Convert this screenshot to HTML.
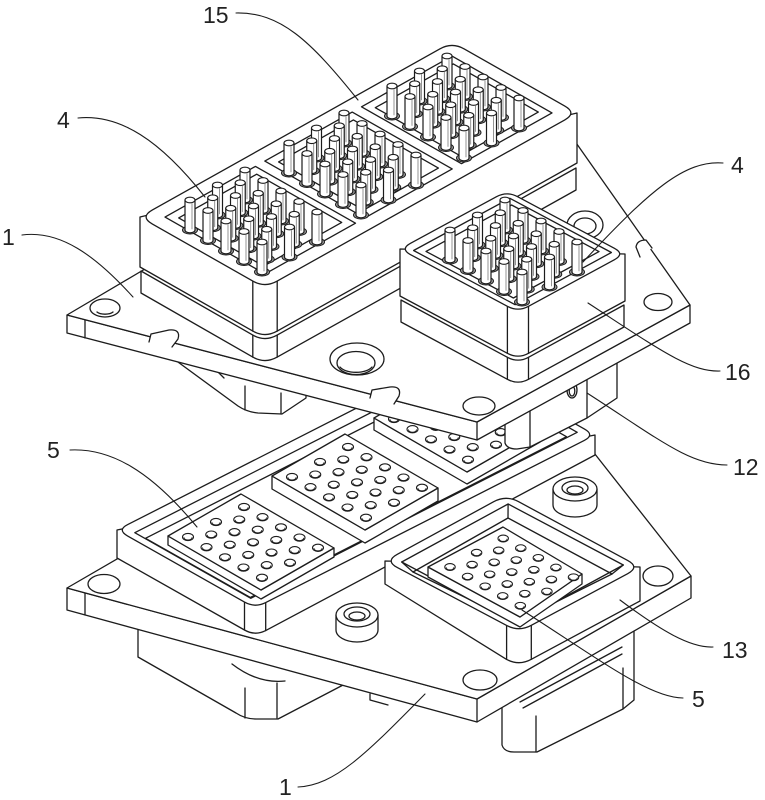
<!DOCTYPE html>
<html><head><meta charset="utf-8"><style>html,body{margin:0;padding:0;background:#fff;}svg{display:block}</style></head>
<body>
<svg width="765" height="800" viewBox="0 0 765 800" xmlns="http://www.w3.org/2000/svg">
<defs>
  <g id="pin">
    <ellipse cx="0" cy="30" rx="7.5" ry="4" fill="#9a9a9a" stroke="#1c1c1c" stroke-width="1"/>
    <path d="M-5,0 L-5,30 A5,2.8 0 0 0 5,30 L5,0 Z" fill="#fff" stroke="#1c1c1c" stroke-width="1.2"/>
    <ellipse cx="0" cy="0" rx="5" ry="2.8" fill="#fff" stroke="#1c1c1c" stroke-width="1.1"/>
    <line x1="2" y1="3.5" x2="2" y2="29" stroke="#666" stroke-width="0.7"/>
  </g>
  <g id="pl">
    <use href="#pin" x="55" y="-30"/><use href="#pin" x="73" y="-19.5"/><use href="#pin" x="50.25" y="-17.25"/>
    <use href="#pin" x="27.5" y="-15"/><use href="#pin" x="91" y="-9"/><use href="#pin" x="68.25" y="-6.75"/>
    <use href="#pin" x="45.5" y="-4.5"/><use href="#pin" x="22.75" y="-2.25"/><use href="#pin" x="0" y="0"/>
    <use href="#pin" x="109" y="1.5"/><use href="#pin" x="86.25" y="3.75"/><use href="#pin" x="63.5" y="6"/>
    <use href="#pin" x="40.75" y="8.25"/><use href="#pin" x="18" y="10.5"/><use href="#pin" x="127" y="12"/>
    <use href="#pin" x="104.25" y="14.25"/><use href="#pin" x="81.5" y="16.5"/><use href="#pin" x="58.75" y="18.75"/>
    <use href="#pin" x="36" y="21"/><use href="#pin" x="99.5" y="27"/><use href="#pin" x="76.75" y="29.25"/>
    <use href="#pin" x="54" y="31.5"/><use href="#pin" x="72" y="42"/>
  </g>
  <g id="h">
    <ellipse cx="0" cy="0" rx="5.5" ry="3.6" fill="#fff" stroke="#1c1c1c" stroke-width="1.1"/>
    <path d="M-4,0.6 A4,2.4 0 0 0 4,0.6" fill="none" stroke="#1c1c1c" stroke-width="0.9"/>
  </g>
  <g id="hs">
    <use href="#h" x="56" y="-30"/><use href="#h" x="74.5" y="-19.8"/><use href="#h" x="93" y="-9.6"/><use href="#h" x="111.5" y="0.6"/><use href="#h" x="130" y="10.8"/>
    <use href="#h" x="51.25" y="-17.4"/><use href="#h" x="69.75" y="-7.2"/><use href="#h" x="88.25" y="3"/><use href="#h" x="106.75" y="13.2"/>
    <use href="#h" x="28" y="-15"/><use href="#h" x="46.5" y="-4.8"/><use href="#h" x="65" y="5.4"/><use href="#h" x="83.5" y="15.6"/><use href="#h" x="102" y="25.8"/>
    <use href="#h" x="23.25" y="-2.4"/><use href="#h" x="41.75" y="7.8"/><use href="#h" x="60.25" y="18"/><use href="#h" x="78.75" y="28.2"/>
    <use href="#h" x="0" y="0"/><use href="#h" x="18.5" y="10.2"/><use href="#h" x="37" y="20.4"/><use href="#h" x="55.5" y="30.6"/><use href="#h" x="74" y="40.8"/>
  </g>
</defs>

<g stroke="#1c1c1c" stroke-width="1.3" fill="#fff" stroke-linejoin="round" stroke-linecap="round">

<!-- ===== LOWER ASSEMBLY ===== -->
<path d="M138,615 L138,657 L236,713 Q245,719 256,719 L278,719 L345,684 L345,640 Z"/>
<path d="M245,688 L245,718 M277,683 L277,718 M232,664 Q258,684 285,681" fill="none"/>
<path d="M502,690 L502,745 Q504,752 514,752 L537,752 L623,709 L634,700 L634,622 Z"/>
<path d="M536,716 L536,752 M623,668 L623,709 M520,702 L622,647 M523,708 L622,654" fill="none"/>

<!-- lower plate -->
<path d="M67,588 L67,610 L477,722 L691,598 L691,576 L477,699 Z"/>
<path d="M477,699 L477,722 M85,593 L85,615 M370,694 L370,700 L388,705" fill="none"/>
<path d="M67,588 L160,534 L400,420 L576,430 L691,576 L477,699 Z"/>
<ellipse cx="104" cy="584" rx="16" ry="9.5"/>
<ellipse cx="658" cy="576" rx="15" ry="10"/>
<ellipse cx="480" cy="680" rx="17" ry="10"/>

<!-- lower frame -->
<path d="M117,530 L117,558 L244.5,630 Q255,636 265.7,630.6 L595,455 L595,435 Z"/>
<path d="M244.5,602 L244.5,630 M265.7,602.6 L265.7,630.6" fill="none"/>
<path d="M127.7,524.6 L446.3,362.4 Q457,357 467.5,362.9 L584.5,429.1 Q595,435 584.3,440.4 L265.7,602.6 Q255,608 244.5,602.1 L127.5,535.9 Q117,530 127.7,524.6 Z"/>
<path d="M134.8,532.7 L461.2,366.7 L577.2,432.3 L250.8,598.3 Z" fill="none"/>
<path d="M145.5,538.3 L461.7,377.5 L566.5,436.7 L250.3,597.5 Z" fill="none"/>

<!-- inserts -->
<path d="M374,418 L374,430 L467,484 L540,442 L540,430 L467,472 Z"/>
<path d="M374,418 L447,376 L540,430 L467,472 Z"/>
<use href="#hs" x="394" y="419"/>
<path d="M272,476 L272,489 L365,543 L438,501 L438,488 L365,530 Z"/>
<path d="M272,476 L345,434 L438,488 L365,530 Z"/>
<use href="#hs" x="292" y="477"/>
<path d="M168,536 L168,545 L261,599 L334,557 L334,548 L261,590 Z"/>
<path d="M168,536 L241,494 L334,548 L261,590 Z"/>
<use href="#hs" x="188" y="537"/>

<!-- bosses -->
<path d="M553,489 L553,505 A22,12 0 0 0 597,505 L597,489 Z"/>
<ellipse cx="575" cy="489" rx="22" ry="12"/>
<ellipse cx="575" cy="488" rx="13" ry="7"/>
<ellipse cx="575" cy="490" rx="8" ry="4" fill="none"/>
<path d="M336,615 L336,630 A21,12 0 0 0 378,630 L378,615 Z"/>
<ellipse cx="357" cy="615" rx="21" ry="12"/>
<ellipse cx="357" cy="614" rx="13" ry="7"/>
<ellipse cx="357" cy="616" rx="8" ry="4" fill="none"/>

<!-- square housing 13 -->
<path d="M385,561 L385,584 L506.6,659.4 Q519,666 531.3,659.3 L640,601 L640,567 Z"/>
<path d="M506.6,625.4 L506.6,659.4 M531.3,625.3 L531.3,659.3" fill="none"/>
<path d="M397.3,554.3 L493.7,501.7 Q506,495 518.4,501.6 L627.6,560.4 Q640,567 627.7,573.7 L531.3,625.3 Q519,632 506.6,625.4 L397.4,567.6 Q385,561 397.3,554.3 Z"/>
<path d="M401.7,562 L508.1,504 L623.3,565 L516.9,623 Z"/>
<path d="M413,572 L508,518 L612,574 L516,622 Z" fill="none"/>
<path d="M508.1,504 L508,518 M401.7,562 L413,572 M623.3,565 L612,574" fill="none"/>
<path d="M428,567 L428,577 L520,627 L582,584 L582,574 L520,617 Z"/>
<path d="M428,567 L503,527 L582,574 L520,617 Z"/>
<g transform="translate(450,567) scale(0.95)"><use href="#hs"/></g>

<!-- ===== UPPER ASSEMBLY ===== -->
<path d="M152,343 L238,406 Q247,412 258,413 L282,414 L306,398 L306,372 Z"/>
<path d="M245,386 L245,410 M281,393 L281,414 M218,372 L224,378" fill="none"/>
<path d="M505,400 L505,443 Q507,449 517,449 L530,447 L587,418 L617,398 L617,350 Z"/>
<path d="M530,406 L530,447 M587,378 L587,418" fill="none"/>
<ellipse cx="572" cy="390" rx="5" ry="8"/>
<ellipse cx="572" cy="391" rx="2.8" ry="5" fill="none"/>

<!-- upper plate -->
<path d="M67,315 L67,333 L477,440 L690,323 L690,305 L477,422 Z"/>
<path d="M477,422 L477,440 M85,320 L85,338" fill="none"/>
<path d="M67,315 L150,266 L300,180 L560,120 L690,305 L477,422 Z"/>
<path d="M149,342 L151,334 L169,330 Q181,329 178,339 L172,347"/>
<path d="M370,398 L372,390 L390,387 Q402,386 399,396 L394,404"/>
<path d="M640,257 L636,247 Q637,240 646,240 L652,248"/>
<ellipse cx="105" cy="308" rx="15" ry="9"/>
<path d="M97,312 A9,4 0 0 0 113,312" fill="none"/>
<ellipse cx="658" cy="302" rx="14" ry="8.5"/>
<ellipse cx="479" cy="406" rx="16" ry="9"/>
<ellipse cx="357" cy="359" rx="27" ry="16"/>
<ellipse cx="356" cy="363" rx="19" ry="11.5"/>
<path d="M340,367 A17,8 0 0 0 372,367" fill="none"/>
<ellipse cx="585" cy="225" rx="18" ry="14"/>
<ellipse cx="585" cy="226" rx="11" ry="8"/>

<!-- long housing 15 -->
<path d="M141,271 L252.8,335.1 Q265,342 277.2,335.1 L576,168 L576,190 L277.2,357.1 Q265,364 252.8,357.1 L141,293 Z"/>
<path d="M252.8,335.1 L252.8,357.1 M277.2,335.1 L277.2,357.1" fill="none"/>
<path d="M140,217 L140,267 L252.8,331.1 Q265,338 277.2,331.1 L577,163 L577,113 Z"/>
<path d="M252.8,281.1 L252.8,331.1 M277.2,281.1 L277.2,331.1" fill="none"/>
<path d="M152.2,210.1 L439.8,48.9 Q452,42 464.2,48.9 L564.8,106.1 Q577,113 564.8,119.9 L277.2,281.1 Q265,288 252.8,281.1 L152.2,223.9 Q140,217 152.2,210.1 Z"/>
<path d="M165,217.1 L255.5,166.4 L355.5,223.2 L265,273.9 Z"/>
<path d="M264.8,161.1 L352.2,112.1 L452.2,168.9 L364.8,217.9 Z"/>
<path d="M361.5,106.85 L452,56.1 L552,112.9 L461.5,163.65 Z"/>
<path d="M178.7,217.9 L256.7,174.2 L341.7,222.4 L263.7,266.1 Z" fill="none"/>
<path d="M278.6,161.9 L353.4,119.9 L438.4,168.1 L363.6,210.1 Z" fill="none"/>
<path d="M375.3,107.65 L453.3,63.9 L538.3,112.1 L460.3,155.85 Z" fill="none"/>
<use href="#pl" x="392" y="86"/>
<use href="#pl" x="289" y="143"/>
<use href="#pl" x="190" y="200"/>

<!-- small housing 16 -->
<path d="M401,300 L507.4,357.3 Q518,363 528.5,357.3 L624,305 L624,327 L528.5,379.3 Q518,385 507.4,379.3 L401,322 Z"/>
<path d="M507.4,357.3 L507.4,379.3 M528.5,357.3 L528.5,379.3" fill="none"/>
<path d="M400,249 L400,296 L507.4,353.3 Q518,359 528.5,353.3 L625,301 L625,254 Z"/>
<path d="M507.4,306.3 L507.4,353.3 M528.5,306.3 L528.5,353.3" fill="none"/>
<path d="M410.5,243.3 L496.5,196.7 Q507,191 517.6,196.7 L614.4,248.3 Q625,254 614.5,259.7 L528.5,306.3 Q518,312 507.4,306.3 L410.6,254.7 Q400,249 410.5,243.3 Z"/>
<path d="M413.6,250.5 L509.9,198.3 L611.4,252.5 L515.1,304.7 Z"/>
<path d="M426,251.4 L511.6,205 L599,251.6 L513.4,298 Z" fill="none"/>
<use href="#pl" x="450" y="230"/>
</g>

<!-- leaders -->
<g stroke="#1c1c1c" stroke-width="1.1" fill="none" stroke-linecap="round">
<path d="M236,13 C280,12 310,40 358,100"/>
<path d="M78,118 C120,114 160,140 205,197"/>
<path d="M22,235 C60,230 95,255 133,297"/>
<path d="M723,163 C685,160 650,190 583,262"/>
<path d="M720,371 C690,372 660,350 588,303"/>
<path d="M727,465 C690,465 660,440 587,393"/>
<path d="M70,450 C110,448 150,470 197,527"/>
<path d="M713,647 C690,648 660,630 620,600"/>
<path d="M683,698 C650,698 600,660 522,610"/>
<path d="M298,787 C335,785 365,755 425,694"/>
</g>

<g font-family="Liberation Sans, Arial, sans-serif" font-size="23" fill="#222">
<text x="203" y="23">15</text>
<text x="57" y="128">4</text>
<text x="2" y="245">1</text>
<text x="731" y="173">4</text>
<text x="725" y="380">16</text>
<text x="733" y="475">12</text>
<text x="47" y="458">5</text>
<text x="722" y="658">13</text>
<text x="692" y="707">5</text>
<text x="279" y="795">1</text>
</g>
</svg>
</body></html>
